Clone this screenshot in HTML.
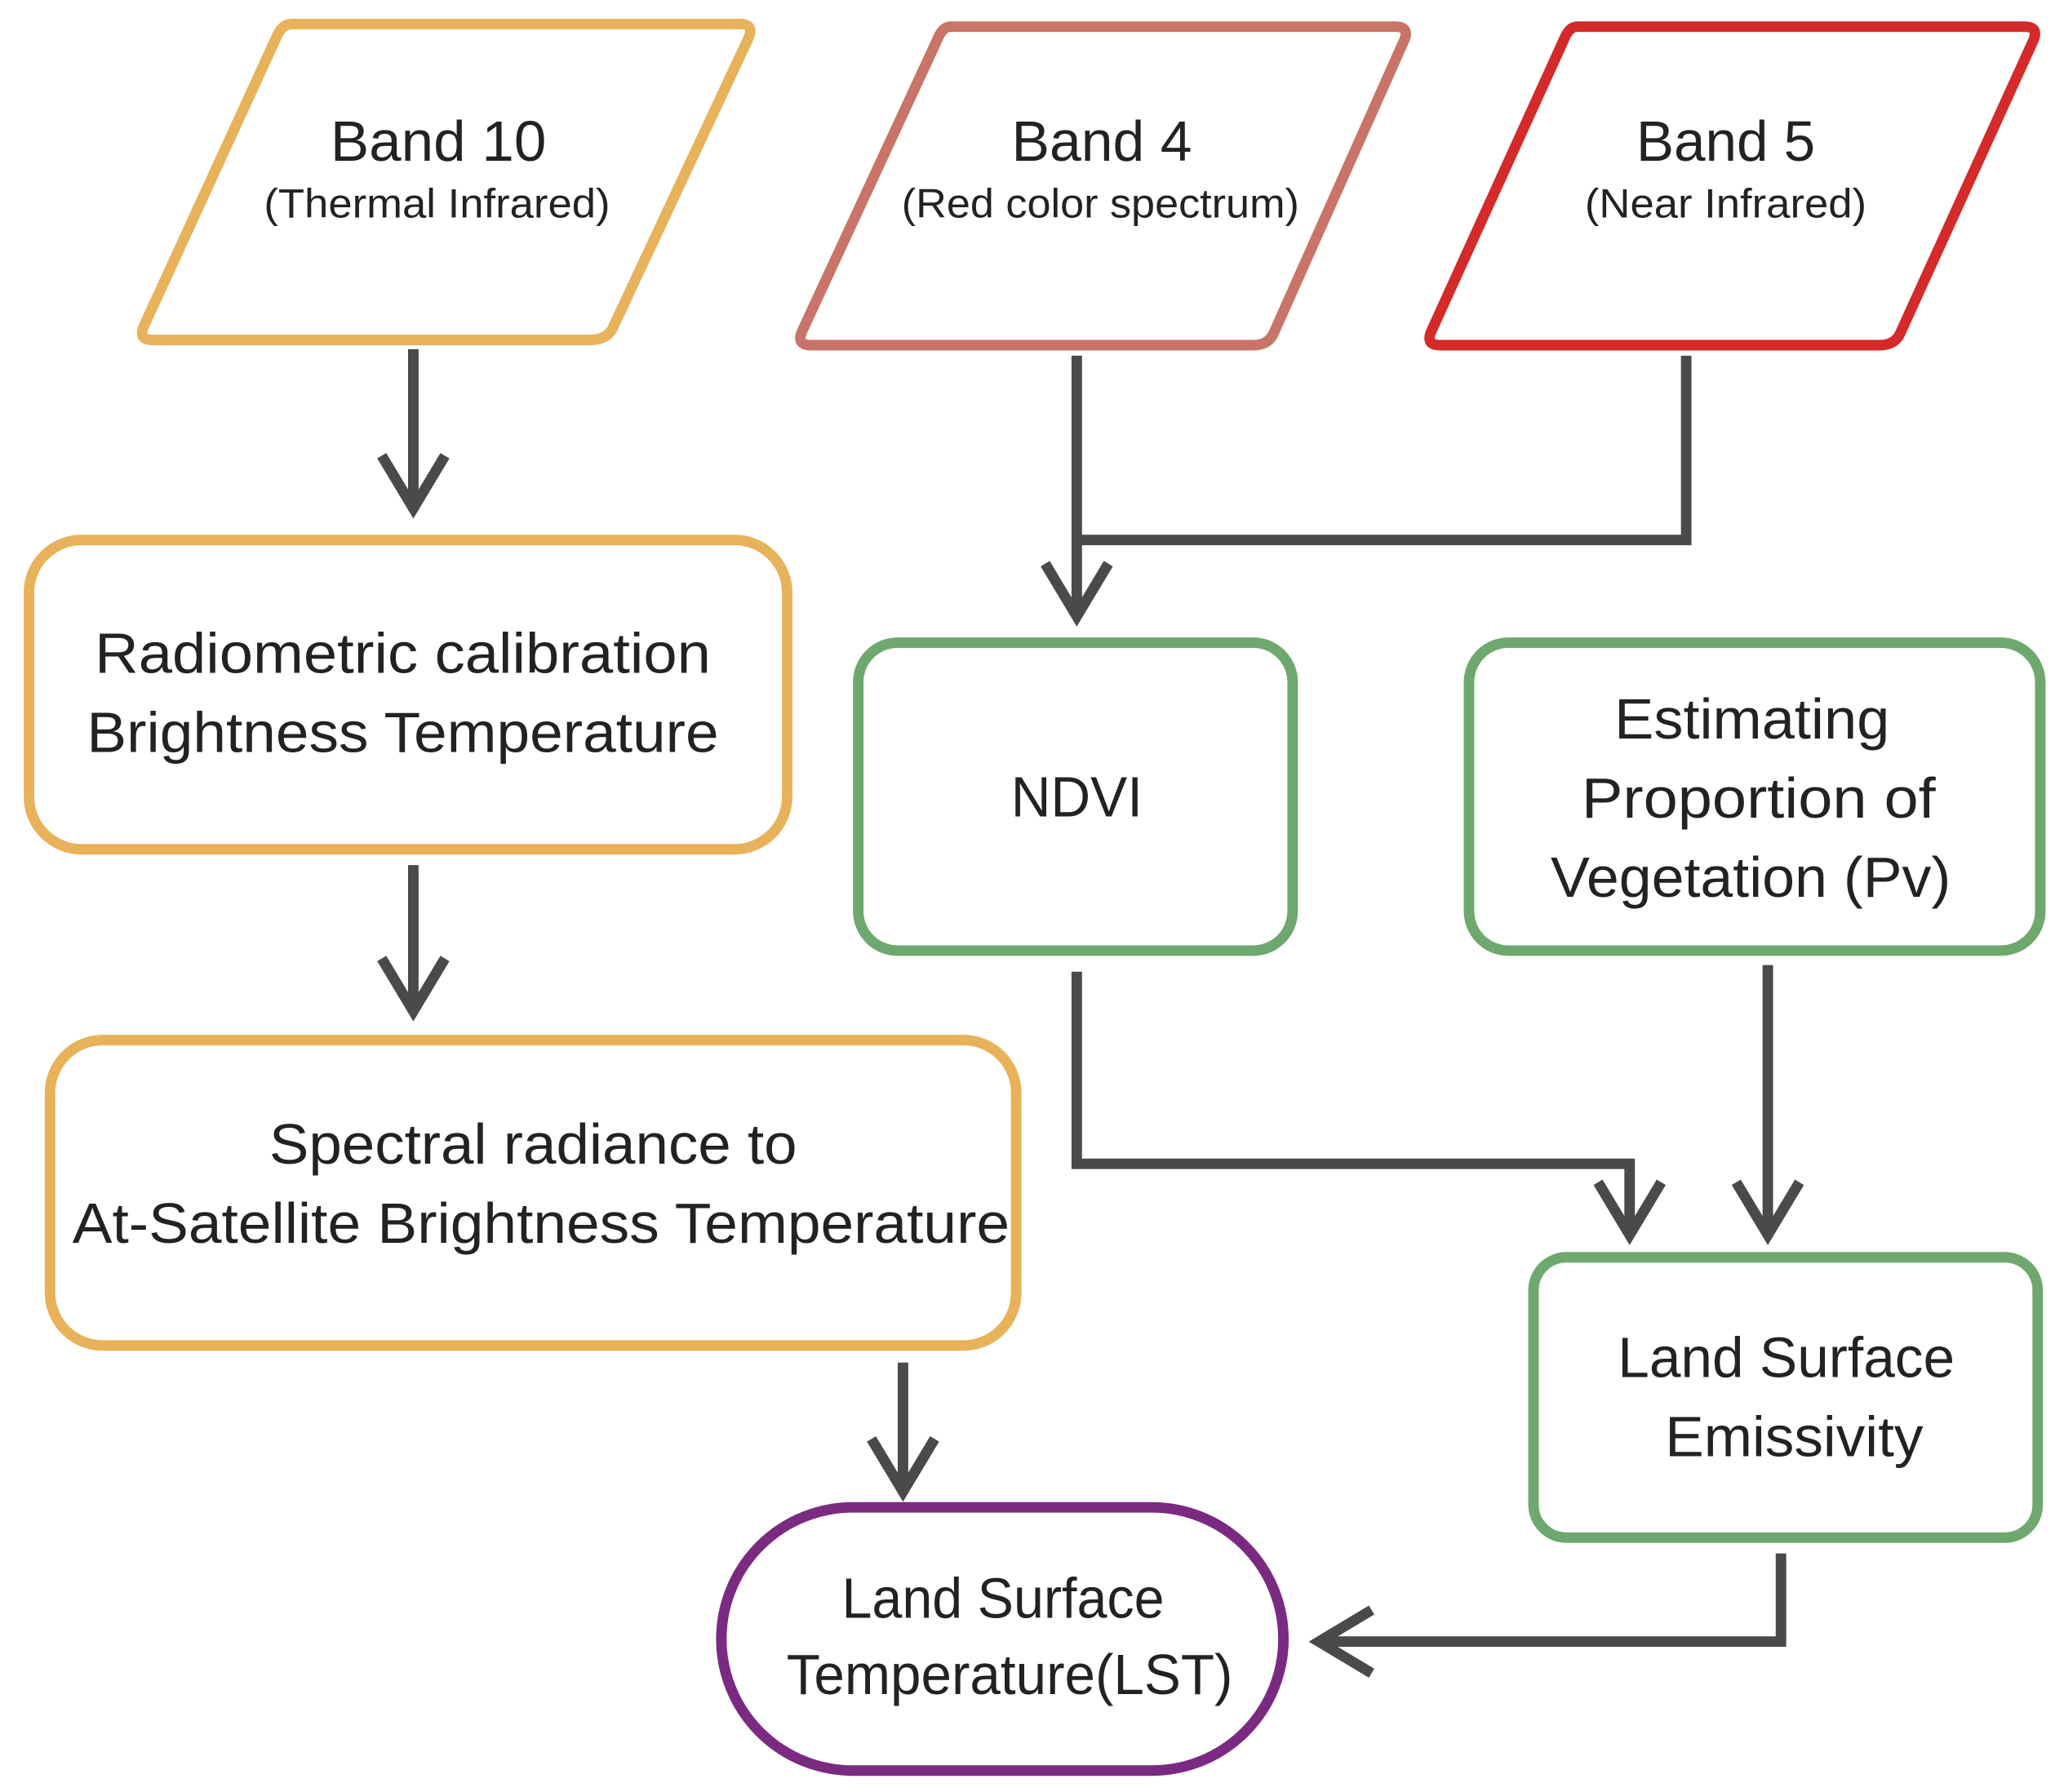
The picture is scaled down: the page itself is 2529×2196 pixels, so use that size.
<!DOCTYPE html>
<html><head><meta charset="utf-8"><style>
html,body{margin:0;padding:0;background:#fff;}
svg{display:block;}
text{font-family:"Liberation Sans",sans-serif;fill:#222;text-anchor:middle;}
</style></head><body>
<svg width="2529" height="2196" viewBox="0 0 1568 1361" xmlns="http://www.w3.org/2000/svg">
<g fill="none" stroke-width="8" stroke-linejoin="round">
<path d="M222,18 L562,18 Q574,18 568,30 L465,250 Q460,258 448,258 L116,258 Q104,258 110,246 L210,28 Q214,18 222,18 Z" stroke="#E8B25A"/>
<path d="M722,20 L1060,20 Q1072,20 1066,32 L968,252 Q964,262 952,262 L616,262 Q604,262 610,250 L712,30 Q716,20 722,20 Z" stroke="#C97468"/>
<path d="M1198,20 L1538,20 Q1550,20 1544,32 L1444,252 Q1440,262 1428,262 L1094,262 Q1082,262 1088,250 L1188,30 Q1192,20 1198,20 Z" stroke="#D42A2A"/>
<rect x="22" y="410" width="576" height="235" rx="40" stroke="#E8B25A"/>
<rect x="38" y="790" width="734" height="232" rx="40" stroke="#E8B25A"/>
<rect x="652" y="488" width="330" height="234" rx="30" stroke="#6FA86F"/>
<rect x="1116" y="488" width="434" height="234" rx="30" stroke="#6FA86F"/>
<rect x="1165" y="955" width="383" height="213" rx="25" stroke="#6FA86F"/>
<rect x="548" y="1145" width="427" height="200" rx="100" stroke="#7B2A82"/>
</g>
<g fill="none" stroke="#4a4a4a" stroke-width="8" stroke-linejoin="miter">
<path d="M314,265 V385"/><path d="M290,346 L314,386 L338,346"/>
<path d="M314,657 V765"/><path d="M290,728 L314,768 L338,728"/>
<path d="M686,1035 V1130"/><path d="M662,1093 L686,1133 L710,1093"/>
<path d="M818,270 V465"/><path d="M794,428 L818,468 L842,428"/>
<path d="M1281,270 V410 H818"/>
<path d="M818,738 V884 H1238 V935"/><path d="M1214,898 L1238,938 L1262,898"/>
<path d="M1343,733 V935"/><path d="M1319,898 L1343,938 L1367,898"/>
<path d="M1353,1180 V1247 H1005"/><path d="M1042,1223 L1002,1247 L1042,1271"/>
</g>
<g lengthAdjust="spacingAndGlyphs">
<text x="333" y="122" font-size="43" textLength="164" lengthAdjust="spacingAndGlyphs">Band 10</text>
<text x="332" y="165" font-size="31" textLength="263" lengthAdjust="spacingAndGlyphs">(Thermal Infrared)</text>
<text x="837" y="122" font-size="43" textLength="137" lengthAdjust="spacingAndGlyphs">Band 4</text>
<text x="836" y="165" font-size="31" textLength="302" lengthAdjust="spacingAndGlyphs">(Red color spectrum)</text>
<text x="1311" y="122" font-size="43" textLength="136" lengthAdjust="spacingAndGlyphs">Band 5</text>
<text x="1311" y="165" font-size="31" textLength="214" lengthAdjust="spacingAndGlyphs">(Near Infrared)</text>
<text x="306" y="511" font-size="43" textLength="468" lengthAdjust="spacingAndGlyphs">Radiometric calibration</text>
<text x="306" y="571" font-size="43" textLength="480" lengthAdjust="spacingAndGlyphs">Brightness Temperature</text>
<text x="405" y="884" font-size="43" textLength="401" lengthAdjust="spacingAndGlyphs">Spectral radiance to</text>
<text x="411" y="944" font-size="43" textLength="712" lengthAdjust="spacingAndGlyphs">At-Satellite Brightness Temperature</text>
<text x="818" y="620" font-size="43" textLength="100" lengthAdjust="spacingAndGlyphs">NDVI</text>
<text x="1331" y="561" font-size="43" textLength="209" lengthAdjust="spacingAndGlyphs">Estimating</text>
<text x="1336" y="621" font-size="43" textLength="269" lengthAdjust="spacingAndGlyphs">Proportion of</text>
<text x="1330" y="681" font-size="43" textLength="304" lengthAdjust="spacingAndGlyphs">Vegetation (Pv)</text>
<text x="1357" y="1046" font-size="43" textLength="256" lengthAdjust="spacingAndGlyphs">Land Surface</text>
<text x="1363" y="1106" font-size="43" textLength="196" lengthAdjust="spacingAndGlyphs">Emissivity</text>
<text x="762" y="1229" font-size="43" textLength="245" lengthAdjust="spacingAndGlyphs">Land Surface</text>
<text x="767" y="1287" font-size="43" textLength="339" lengthAdjust="spacingAndGlyphs">Temperature(LST)</text>
</g>
</svg>
</body></html>
